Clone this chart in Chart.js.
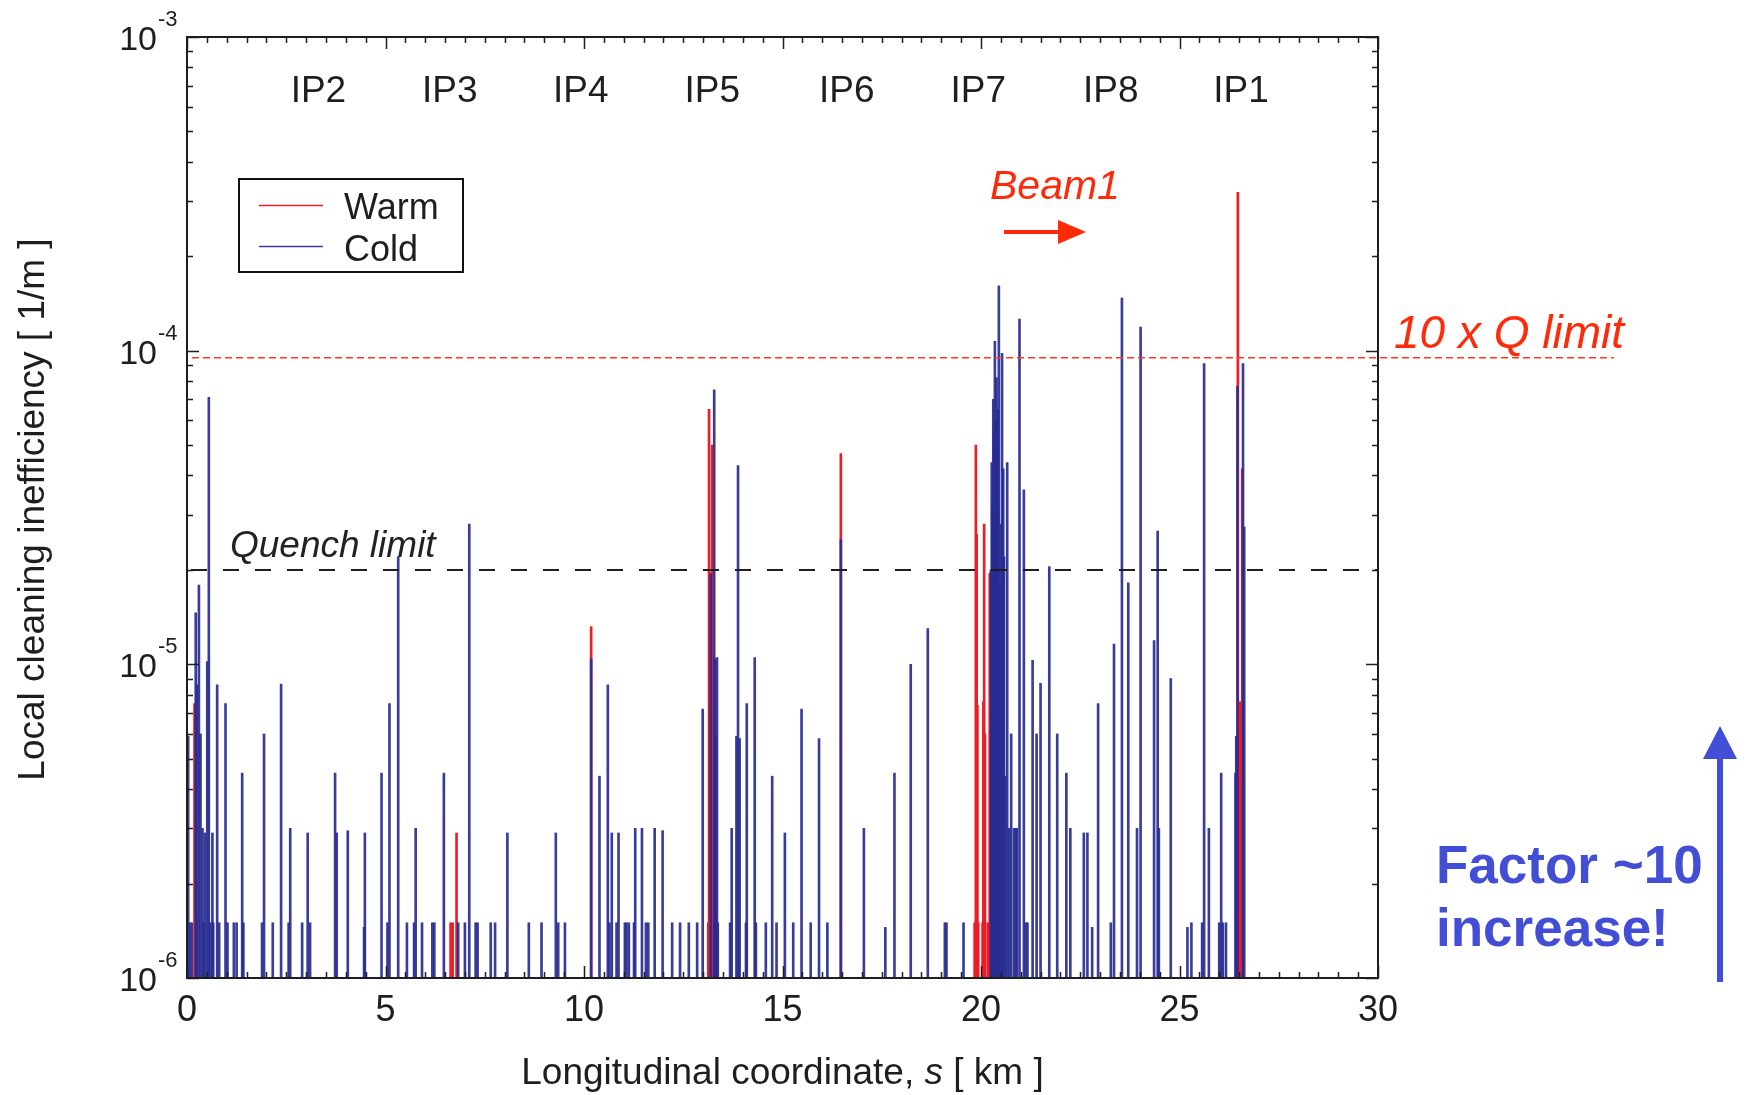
<!DOCTYPE html>
<html>
<head>
<meta charset="utf-8">
<script src="https://cdn.jsdelivr.net/npm/chart.js"></script>
<style>
  html, body { margin: 0; padding: 0; background: #fff; }
  #wrap { width: 1746px; height: 1095px; }
</style>
</head>
<body>
<div id="wrap"><canvas id="chart" width="1746" height="1095"></canvas></div>
<script>
// Positions along the ring (km) and local inefficiency (1/m)
const coldS = [0.03, 0.07, 0.12, 0.22, 0.25, 0.30, 0.34, 0.39, 0.42, 0.45, 0.51, 0.55, 0.59, 0.64, 0.66, 0.76, 0.81, 0.97,
  1.02, 1.18, 1.25, 1.39, 1.42, 1.89, 1.94, 2.16, 2.37, 2.56, 2.60, 2.90, 3.04, 3.10, 3.73, 3.77, 4.05, 4.46, 4.48, 4.90,
  5.05, 5.10, 5.32, 5.54, 5.72, 5.76, 5.92, 6.18, 6.23, 6.47, 6.83, 7.00, 7.11, 7.27, 7.32, 7.65, 7.76, 8.07, 8.61, 8.93,
  9.29, 9.35, 9.52, 10.18, 10.39, 10.60, 10.64, 10.70, 10.82, 10.87, 11.03, 11.07, 11.13, 11.26, 11.29, 11.46, 11.56, 11.62,
  11.78, 11.98, 12.22, 12.42, 12.64, 12.85, 12.99, 13.19, 13.28, 13.30, 13.32, 13.35, 13.37, 13.68, 13.72, 13.84, 13.88,
  13.92, 14.08, 14.10, 14.30, 14.33, 14.58, 14.74, 14.85, 15.06, 15.27, 15.48, 15.71, 15.92, 16.13, 16.47, 17.05, 17.59,
  17.82, 18.23, 18.66, 19.09, 19.13, 19.56, 20.25, 20.27, 20.29, 20.31, 20.33, 20.35, 20.37, 20.39, 20.41, 20.43, 20.45,
  20.48, 20.50, 20.53, 20.56, 20.58, 20.62, 20.66, 20.71, 20.76, 20.83, 20.87, 20.90, 20.97, 21.08, 21.13, 21.17, 21.30,
  21.40, 21.50, 21.72, 21.92, 22.15, 22.25, 22.59, 22.68, 22.80, 22.95, 23.27, 23.35, 23.55, 23.71, 23.93, 24.02, 24.36,
  24.45, 24.48, 24.78, 25.20, 25.30, 25.57, 25.62, 25.74, 26.00, 26.05, 26.09, 26.17, 26.41, 26.43, 26.46, 26.60, 26.63];
const coldV = [5.9e-6, 1.5e-6, 1.5e-6, 1.46e-5, 8.6e-6, 1.79e-5, 6.0e-6, 3.0e-6, 1.5e-6, 2.9e-6, 1.02e-5, 7.1e-5, 1.5e-6, 2.9e-6, 1.5e-6, 8.6e-6, 1.5e-6, 7.5e-6,
  1.5e-6, 1.5e-6, 1.5e-6, 4.5e-6, 1.5e-6, 1.5e-6, 6.0e-6, 1.5e-6, 8.65e-6, 1.5e-6, 3.0e-6, 1.5e-6, 2.9e-6, 1.5e-6, 4.5e-6, 2.9e-6, 2.95e-6, 1.45e-6, 2.9e-6, 4.5e-6,
  1.5e-6, 7.5e-6, 2.2e-5, 1.5e-6, 1.5e-6, 3.0e-6, 1.5e-6, 1.5e-6, 1.5e-6, 4.5e-6, 1.5e-6, 1.5e-6, 2.8e-5, 1.5e-6, 1.5e-6, 1.5e-6, 1.5e-6, 2.9e-6, 1.5e-6, 1.5e-6,
  2.9e-6, 1.5e-6, 1.5e-6, 1.04e-5, 4.4e-6, 8.6e-6, 1.5e-6, 2.9e-6, 1.5e-6, 2.9e-6, 1.5e-6, 1.5e-6, 1.5e-6, 1.5e-6, 3.0e-6, 3.0e-6, 1.5e-6, 1.5e-6,
  3.0e-6, 2.95e-6, 1.5e-6, 1.5e-6, 1.5e-6, 1.5e-6, 7.2e-6, 1.94e-5, 7.5e-5, 1.04e-5, 5.9e-6, 1.05e-5, 1.5e-6, 1.5e-6, 3.0e-6, 5.9e-6, 4.3e-5,
  5.8e-6, 1.5e-6, 7.5e-6, 1.05e-5, 1.5e-6, 1.5e-6, 4.4e-6, 1.5e-6, 2.9e-6, 1.5e-6, 7.2e-6, 1.5e-6, 5.8e-6, 1.5e-6, 2.5e-5, 3.0e-6, 1.45e-6,
  4.5e-6, 1.0e-5, 1.3e-5, 1.5e-6, 1.5e-6, 1.5e-6, 2.0e-5, 4.4e-5, 3.2e-5, 7.0e-5, 5.5e-5, 1.07e-4, 6.0e-5, 8.2e-5, 4.8e-5, 6.5e-5, 1.61e-4,
  1.8e-5, 2.8e-5, 9.8e-5, 4.2e-5, 2.2e-5, 4.4e-6, 4.4e-5, 3.0e-6, 6.0e-6, 3.0e-6, 3.0e-6, 3.0e-6, 1.26e-4, 3.6e-5, 1.5e-6, 1.5e-6, 1.03e-5,
  6.0e-6, 8.7e-6, 2.05e-5, 6.0e-6, 4.5e-6, 3.0e-6, 2.9e-6, 2.9e-6, 1.45e-6, 7.5e-6, 1.5e-6, 1.16e-5, 1.47e-4, 1.82e-5, 3.0e-6, 1.19e-4, 1.19e-5,
  2.66e-5, 3.0e-6, 9.0e-6, 1.45e-6, 1.5e-6, 1.5e-6, 9.1e-5, 3.0e-6, 1.5e-6, 4.5e-6, 1.5e-6, 1.5e-6, 4.5e-6, 5.9e-6, 7.7e-5, 9.1e-5, 2.74e-5];

const warmS = [0.19, 6.64, 6.69, 6.79, 10.18, 13.13, 13.15, 13.17, 13.23, 16.47, 19.84, 19.87, 19.89, 19.91, 19.93,
  20.04, 20.06, 20.08, 20.10, 20.17, 20.20, 20.22, 26.47, 26.52, 26.58];
const warmV = [7.5e-6, 1.5e-6, 1.5e-6, 2.9e-6, 1.32e-5, 1.5e-6, 6.5e-5, 1.96e-5, 5.0e-5, 4.7e-5, 1.5e-6, 5.0e-5, 2.6e-5, 7.4e-6, 1.5e-6,
  1.5e-6, 7.6e-6, 2.8e-5, 6.0e-6, 1.5e-6, 1.5e-6, 1.95e-5, 3.2e-4, 7.6e-6, 4.2e-5];

const ipNames = ['IP2', 'IP3', 'IP4', 'IP5', 'IP6', 'IP7', 'IP8', 'IP1'];
const ipPos = [3.31, 6.62, 9.92, 13.23, 16.62, 19.93, 23.27, 26.55];

const yExps = [-6, -5, -4, -3];
const xTickStep = 5;
const quenchLimit = 2.0e-5;
const tenQLimit = 9.5e-5;

const FONT = "'Liberation Sans', Arial, Helvetica, sans-serif";
const COLD = 'rgba(40, 44, 145, 0.92)';
const WARM = '#ee1c25';
const INK = '#1e1e1e';

function pairs(xs, ys) { return xs.map((s, i) => ({ x: s, y: ys[i] })); }

const decor = {
  id: 'decor',
  afterDatasetsDraw(chart) {
    const { ctx, chartArea: a, scales: { x, y } } = chart;
    ctx.save();

    // quench limit
    const yq = y.getPixelForValue(quenchLimit);
    ctx.strokeStyle = INK; ctx.lineWidth = 2; ctx.setLineDash([16, 16]);
    ctx.beginPath(); ctx.moveTo(a.left + 4, yq); ctx.lineTo(a.right, yq); ctx.stroke();

    // 10 x quench limit, runs out past the frame
    const yr = y.getPixelForValue(tenQLimit);
    ctx.strokeStyle = '#ff3b1e'; ctx.lineWidth = 1.5; ctx.setLineDash([7, 4]);
    ctx.beginPath(); ctx.moveTo(a.left + 5, yr); ctx.lineTo(1614, yr); ctx.stroke();
    ctx.setLineDash([]);

    // frame
    ctx.strokeStyle = INK; ctx.lineWidth = 2;
    ctx.strokeRect(a.left, a.top, a.right - a.left, a.bottom - a.top);

    // inward ticks, x
    ctx.lineWidth = 1.5;
    for (let s = 0; s <= 30.001; s += 0.5) {
      const px = Math.round(x.getPixelForValue(s)) + 0.5;
      const len = Math.abs(s % 5) < 1e-6 ? 12 : 6;
      ctx.beginPath();
      ctx.moveTo(px, a.bottom); ctx.lineTo(px, a.bottom - len);
      ctx.moveTo(px, a.top); ctx.lineTo(px, a.top + len);
      ctx.stroke();
    }
    // inward ticks, y (log minors)
    yExps.forEach(e => {
      const mMax = e === -3 ? 1 : 9;
      for (let m = 1; m <= mMax; m++) {
        const py = Math.round(y.getPixelForValue(m * Math.pow(10, e))) + 0.5;
        const len = m === 1 ? 12 : 6;
        ctx.beginPath();
        ctx.moveTo(a.left, py); ctx.lineTo(a.left + len, py);
        ctx.moveTo(a.right, py); ctx.lineTo(a.right - len, py);
        ctx.stroke();
      }
    });

    // y tick labels with exponents
    ctx.fillStyle = INK;
    yExps.forEach(e => {
      const py = y.getPixelForValue(Math.pow(10, e));
      ctx.font = '34px ' + FONT; ctx.textAlign = 'right'; ctx.textBaseline = 'alphabetic';
      ctx.fillText('10', a.left - 30, py + 13);
      ctx.font = '22px ' + FONT; ctx.textAlign = 'left';
      ctx.fillText(String(e), a.left - 29, py - 11);
    });

    // axis titles
    ctx.font = '37px ' + FONT; ctx.textAlign = 'center';
    ctx.save();
    ctx.translate(44, (a.top + a.bottom) / 2 + 2);
    ctx.rotate(-Math.PI / 2);
    ctx.fillText('Local cleaning inefficiency [ 1/m ]', 0, 0);
    ctx.restore();

    const parts = [['Longitudinal coordinate, ', ''], ['s', 'italic '], [' [ km ]', '']];
    let total = 0;
    parts.forEach(p => { ctx.font = p[1] + '37px ' + FONT; total += ctx.measureText(p[0]).width; });
    let tx = (a.left + a.right) / 2 - total / 2;
    ctx.textAlign = 'left';
    parts.forEach(p => {
      ctx.font = p[1] + '37px ' + FONT;
      ctx.fillText(p[0], tx, 1084);
      tx += ctx.measureText(p[0]).width;
    });

    // IP labels
    ctx.font = '37px ' + FONT; ctx.textAlign = 'center';
    ipNames.forEach((n, i) => ctx.fillText(n, x.getPixelForValue(ipPos[i]), a.top + 65));

    // legend
    ctx.lineWidth = 2; ctx.strokeStyle = '#111';
    ctx.strokeRect(239, 179, 224, 93);
    ctx.lineWidth = 1.5;
    ctx.strokeStyle = WARM; ctx.beginPath(); ctx.moveTo(259, 205.5); ctx.lineTo(323, 205.5); ctx.stroke();
    ctx.strokeStyle = COLD; ctx.beginPath(); ctx.moveTo(259, 246.5); ctx.lineTo(323, 246.5); ctx.stroke();
    ctx.font = '36px ' + FONT; ctx.textAlign = 'left'; ctx.fillStyle = INK;
    ctx.fillText('Warm', 344, 219);
    ctx.fillText('Cold', 344, 261);

    // quench label
    ctx.font = 'italic 37px ' + FONT; ctx.fillStyle = '#222';
    ctx.fillText('Quench limit', 230, 557);

    // beam direction
    ctx.fillStyle = '#ff2a0a';
    ctx.font = 'italic 41px ' + FONT;
    ctx.fillText('Beam1', 990, 199);
    ctx.strokeStyle = '#ff2a0a'; ctx.lineWidth = 4;
    ctx.beginPath(); ctx.moveTo(1004, 232); ctx.lineTo(1062, 232); ctx.stroke();
    ctx.beginPath(); ctx.moveTo(1086, 232); ctx.lineTo(1058, 220); ctx.lineTo(1058, 244); ctx.closePath(); ctx.fill();

    ctx.font = 'italic 46px ' + FONT;
    ctx.fillText('10 x Q limit', 1394, 348);

    // factor annotation
    ctx.fillStyle = '#434ed6'; ctx.strokeStyle = '#434ed6';
    ctx.font = 'bold 53px ' + FONT;
    ctx.fillText('Factor ~10', 1436, 883);
    ctx.fillText('increase!', 1436, 946);
    ctx.lineWidth = 6;
    ctx.beginPath(); ctx.moveTo(1720, 982); ctx.lineTo(1720, 752); ctx.stroke();
    ctx.beginPath(); ctx.moveTo(1720, 726); ctx.lineTo(1703, 759); ctx.lineTo(1737, 759); ctx.closePath(); ctx.fill();

    ctx.restore();
  }
};

new Chart(document.getElementById('chart'), {
  type: 'bar',
  data: {
    datasets: [
      { label: 'Warm', data: pairs(warmS, warmV), backgroundColor: WARM, barThickness: 2, grouped: false, order: 1 },
      { label: 'Cold', data: pairs(coldS, coldV), backgroundColor: COLD, barThickness: 2, grouped: false, order: 0 }
    ]
  },
  options: {
    responsive: false,
    animation: false,
    events: [],
    layout: { padding: { left: 0, top: 37, right: 368, bottom: 0 } },
    plugins: { legend: { display: false }, tooltip: { enabled: false } },
    scales: {
      x: {
        type: 'linear', min: 0, max: 30, offset: false,
        grid: { display: false, drawTicks: false },
        border: { display: false },
        ticks: { stepSize: xTickStep, color: INK, padding: 11, font: { size: 36, family: FONT } },
        afterFit: s => { s.height = 117; }
      },
      y: {
        type: 'logarithmic', min: 1e-6, max: 1e-3,
        grid: { display: false, drawTicks: false },
        border: { display: false },
        ticks: { display: false },
        afterFit: s => { s.height = s.height; s.width = 187; }
      }
    }
  },
  plugins: [decor]
});
</script>
</body>
</html>
